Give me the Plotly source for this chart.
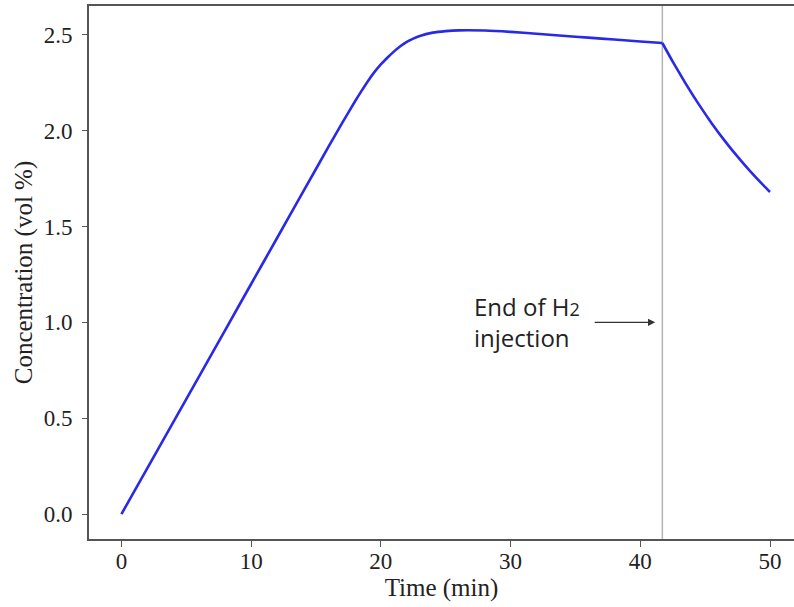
import plotly.graph_objects as go

# Time (min) and H2 concentration (vol %)
time_min = [0, 2, 4, 6, 8, 10, 12, 14, 16, 17, 18, 18.5, 19, 19.5, 20, 20.5, 21, 21.5,
            22, 22.5, 23, 24, 25, 26, 28, 30, 32, 34, 36, 38, 40, 41.7, 42.5, 43.5,
            44.5, 45.5, 46.5, 47.5, 48.5, 49.5, 50]
conc = [0.0, 0.24, 0.48, 0.72, 0.96, 1.20, 1.44, 1.68, 1.92, 2.038, 2.152, 2.206, 2.258,
        2.305, 2.345, 2.38, 2.412, 2.44, 2.463, 2.48, 2.494, 2.511, 2.519, 2.523, 2.522,
        2.515, 2.505, 2.495, 2.485, 2.475, 2.465, 2.457, 2.36, 2.245, 2.138, 2.039, 1.948,
        1.864, 1.786, 1.714, 1.68]
injection_end = 41.7

x_ticks = [0, 10, 20, 30, 40, 50]
y_ticks = [0.0, 0.5, 1.0, 1.5, 2.0, 2.5]
y_tick_labels = ["0.0", "0.5", "1.0", "1.5", "2.0", "2.5"]

serif = "Liberation Serif, Times New Roman, serif"
axis_col = "#555555"
line_style = dict(color="#2a2ae6", width=2.6, shape="spline", smoothing=0.5)

split = time_min.index(injection_end)
fig = go.Figure()
fig.add_trace(go.Scatter(
    x=time_min[:split + 1], y=conc[:split + 1], mode="lines", line=line_style,
    hoverinfo="skip", showlegend=False,
))
fig.add_trace(go.Scatter(
    x=time_min[split:], y=conc[split:], mode="lines", line=line_style,
    hoverinfo="skip", showlegend=False,
))

fig.add_shape(type="line", xref="x", yref="paper", x0=injection_end, x1=injection_end,
              y0=0, y1=1, line=dict(color="#b4b4b4", width=1.5), layer="below")

fig.add_annotation(
    x=27.05, y=1.0, xref="x", yref="y", xanchor="left", yanchor="middle", align="left",
    text="End of H<span style='font-size:18px'>2</span><br>injection",
    showarrow=False, font=dict(family="Open Sans, Noto Sans, sans-serif", size=24, color="#222222"),
)
fig.add_annotation(
    x=injection_end - 0.55, y=1.0, xref="x", yref="y", text="",
    showarrow=True, ax=-62, ay=0, arrowhead=2, arrowsize=1.2, arrowwidth=1.2,
    arrowcolor="#333333",
)

fig.update_layout(
    width=794, height=607,
    margin=dict(l=89, r=0, t=6, b=68),
    paper_bgcolor="white", plot_bgcolor="white",
    font=dict(family=serif, size=23, color="#222222"),
)
fig.update_xaxes(
    range=[-2.5, 51.85], tickvals=x_ticks, ticks="outside", ticklen=6, tickwidth=1.3,
    tickcolor=axis_col, showline=True, linecolor=axis_col, linewidth=1.8, mirror=True,
    showgrid=False, zeroline=False, ticklabelstandoff=-6,
    title=dict(text="Time (min)", standoff=0, font=dict(size=25)),
    tickfont=dict(size=23),
)
fig.update_yaxes(
    range=[-0.13, 2.65], tickvals=y_ticks, ticktext=y_tick_labels, ticks="outside",
    ticklen=5, tickwidth=1.3, tickcolor=axis_col, showline=True, linecolor=axis_col,
    linewidth=1.8, mirror=False, showgrid=False, zeroline=False, ticklabelstandoff=5,
    title=dict(text="Concentration (vol %)", standoff=4, font=dict(size=25)),
    tickfont=dict(size=23),
)

fig.write_html("out.html")
